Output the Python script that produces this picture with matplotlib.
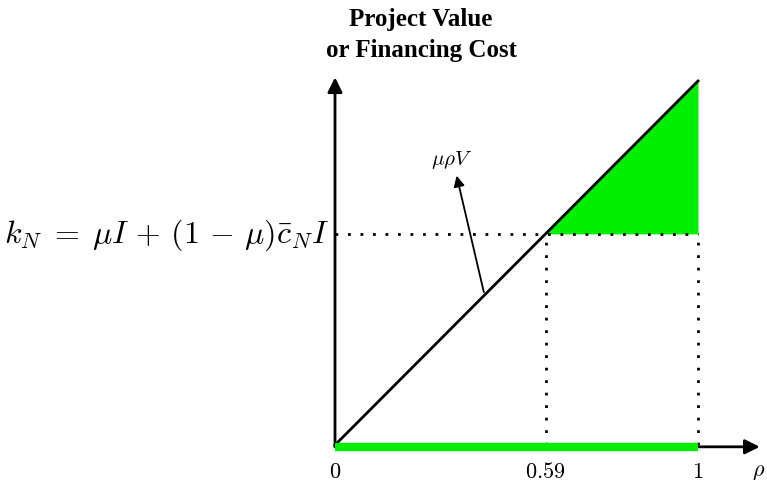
import numpy as np
import matplotlib.pyplot as plt

plt.rcParams['mathtext.fontset'] = 'cm'

# values
rho = [0.0, 1.0]
value_line = [0.0, 1.0]          # mu*rho*V, rises 1:1
k_level = 0.58                   # financing cost level
rho_star = 0.58                  # where the line crosses k_N
tick_pos = [0.0, rho_star, 1.0]
tick_labels = ['$0$', '$0.59$', '$1$']

green = '#00ee00'

fig = plt.figure(figsize=(7.67, 4.81), dpi=100)
ax = fig.add_axes([0, 0, 1, 1])
ax.set_xlim(-335 / 363, 432 / 363)
ax.set_ylim(-35 / 364, 446 / 364)
ax.axis('off')

# shaded region above k_N and below the line
xs = np.array([rho_star, 1.0])
ax.fill_between(xs, [k_level, k_level], xs, color=green, lw=0, zorder=1)

# green segment on the rho axis
ax.plot(rho, [-0.005, -0.005], color=green, lw=6, solid_capstyle='butt', zorder=6)

# the mu*rho*V line
ax.plot(rho, value_line, color='black', lw=2, zorder=4)

# dotted guides
ax.plot([0, 1], [k_level, k_level], color='black', lw=2, ls=(0, (1, 3.5)), zorder=2)
for x in [rho_star, 1.0]:
    ax.plot([x, x], [0, k_level], color='black', lw=2, ls=(0, (1, 3.5)), zorder=2)

# axes arrows
arrow = dict(arrowstyle='-|>', color='black', lw=2, mutation_scale=22, shrinkA=0, shrinkB=0)
ax.annotate('', xy=(0, 1.01), xytext=(0, -0.005), arrowprops=arrow, zorder=5)
ax.annotate('', xy=(1.17, -0.005), xytext=(0, -0.005), arrowprops=arrow, zorder=5)

# label arrow for mu*rho*V
ax.annotate('', xy=(0.335, 0.74), xytext=(0.41, 0.42),
            arrowprops=dict(arrowstyle='-|>', color='black', lw=1.3,
                            mutation_scale=16, shrinkA=0, shrinkB=0))
ax.text(0.322, 0.786, r'$\mu\rho V$', fontsize=15, ha='center', va='center')

# tick labels
for x, lab in zip(tick_pos, tick_labels):
    ax.text(x, -0.045, lab, fontsize=16, ha='center', va='top')
ax.text(1.168, -0.045, r'$\rho$', fontsize=16, ha='center', va='top')

# k_N label
ax.text(-0.015, k_level, r'$k_N \;=\; \mu I \,+\, (1\,-\,\mu)\bar{c}_N I$', fontsize=23,
        ha='right', va='center')

# title over the vertical axis
ax.text(0.237, 1.13, 'Project Value\nor Financing Cost', fontsize=18,
        fontweight='bold', family='Liberation Serif', ha='center', va='center',
        linespacing=1.45)

fig.savefig('out.png', dpi=100)
